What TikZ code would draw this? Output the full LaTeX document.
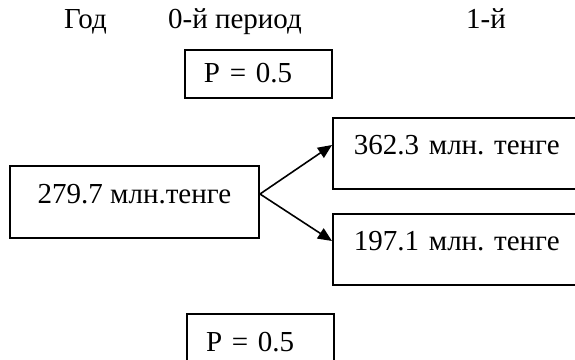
\documentclass[tikz,border=0pt]{standalone}
\usepackage{fontspec}
\setmainfont{Liberation Serif}
\usepackage{tikz}
\usetikzlibrary{arrows.meta}
\frenchspacing

\begin{document}
\begin{tikzpicture}[
  x=0.5pt, y=-0.5pt,
  font=\fontsize{14.5}{17}\selectfont,
  box/.style={draw, line width=1pt, inner ysep=0pt, text height=10pt, text depth=9pt, minimum height=36pt},
  pbox/.style={box, anchor=north west, align=left, text width=54.5pt, inner xsep=9.5pt, minimum height=24pt, text depth=2pt},
  sumbox/.style={box, anchor=north west, align=left, text width=129pt, inner xsep=10.5pt, minimum height=35.5pt},
  hdr/.style={anchor=base, inner sep=0pt},
  arr/.style={-{Triangle[length=7pt, width=6pt]}, line width=0.8pt}
]
\useasboundingbox (0,0) rectangle (575,360);
\clip (0,0) rectangle (575,360);

% Header
\node[hdr] (god) at (85.5,28) {Год};
\node[hdr] (per0) at (235,28) {0-й период};
\node[hdr] (per1) at (486,28) {1-й};

% Probabilities
\node[pbox] (pup) at (184,49) {P = 0.5};
\node[pbox, minimum height=30pt, text depth=3pt] (pdown) at (186,313) {P = 0.5};

% Values
\node[box, anchor=north west, minimum width=124.5pt, inner xsep=0pt] (v0) at (9,165) {279.7 млн.тенге};
\node[sumbox] (vup) at (332,117) {362.3 млн. тенге};
\node[sumbox] (vdown) at (332,213) {197.1 млн. тенге};

% Arrows
\draw[arr] ([yshift=4pt]v0.east) -- ([yshift=4.25pt]vup.west);
\draw[arr] ([yshift=4pt]v0.east) -- ([yshift=4.25pt]vdown.west);
\end{tikzpicture}
\end{document}
